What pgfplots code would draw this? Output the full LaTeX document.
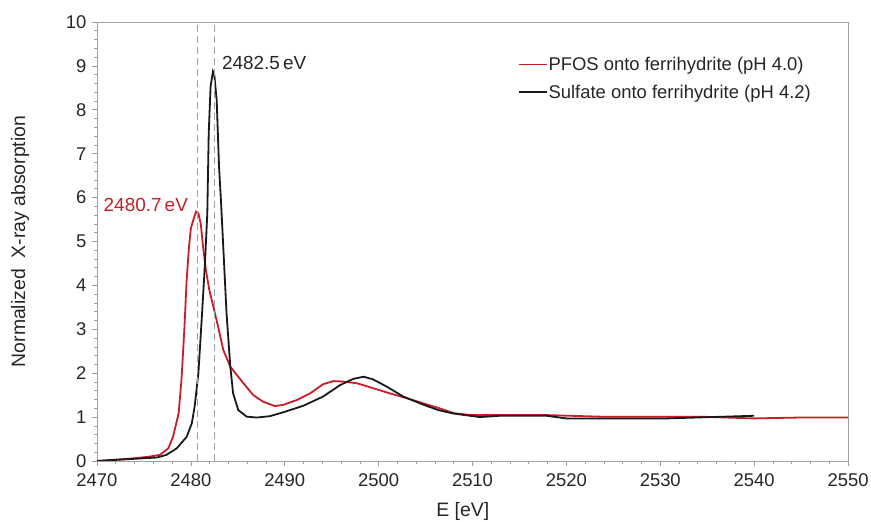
\documentclass[border=0pt]{standalone}
\usepackage{pgfplots}
\pgfplotsset{compat=1.18}
\usepackage{fontspec}
\setmainfont{Liberation Sans}
\definecolor{pfos}{RGB}{200,30,40}
\definecolor{axgray}{RGB}{160,160,160}
\begin{document}
\begin{tikzpicture}[x=1bp,y=1bp]
\begin{axis}[
  scale only axis,
  width=751bp, height=439bp,
  xmin=2470, xmax=2550, ymin=0, ymax=10,
  xtick={2470,2480,...,2550}, ytick={0,1,...,10},
  minor x tick num=4, minor y tick num=4,
  tick pos=left, tick align=outside,
  major tick length=5bp, minor tick length=3bp,
  axis line style={axgray, line width=0.9bp},
  every tick/.style={axgray, line width=0.7bp},
  /pgf/number format/assume math mode=true,
  /pgf/number format/.cd, 1000 sep={}, /pgfplots/.cd,
  tick label style={font=\fontsize{18.5}{20}\selectfont, text=black!85},
  yticklabel style={xshift=-2bp},
  xticklabel style={yshift=-4bp},
  xlabel={E [eV]}, ylabel={Normalized\ \ X-ray absorption},
  every axis x label/.style={at={(axis description cs:0.487,0)}, anchor=center, yshift=-50bp,
    font=\fontsize{19.5}{22}\selectfont, text=black!85},
  every axis y label/.style={at={(axis description cs:0,0.5)}, rotate=90, anchor=center, yshift=77bp,
    font=\fontsize{19.5}{22}\selectfont, text=black!85},
  legend style={draw=none, fill=none, at={(0.56,0.925)}, anchor=north west, inner sep=0pt,
    font=\fontsize{18.5}{20}\selectfont, row sep=9bp, text=black!85,
    nodes={inner xsep=1bp}},
  legend cell align=left,
  legend image code/.code={\draw[#1] (0bp,0bp) -- (28bp,0bp);},
  clip=true,
]
\addlegendimage{pfos, line width=1.8bp}
\addlegendentry{PFOS onto ferrihydrite (pH 4.0)}
\addlegendimage{black!90, line width=1.8bp}
\addlegendentry{Sulfate onto ferrihydrite (pH 4.2)}
\addplot[pfos, line width=1.8bp, forget plot] coordinates {
(2470,0.0) (2473.9,0.06) (2475.6,0.10) (2476.7,0.14) (2477.6,0.29) (2478.1,0.55)
(2478.7,1.09) (2479.0,1.85) (2479.3,2.98) (2479.55,4.12) (2479.8,4.88) (2480.0,5.30)
(2480.26,5.49) (2480.55,5.68) (2480.8,5.64) (2481.05,5.41) (2481.3,4.88) (2481.6,4.35)
(2481.96,3.90) (2482.4,3.51) (2482.9,3.06) (2483.45,2.53) (2484.2,2.15) (2484.9,1.96)
(2485.6,1.77) (2486.65,1.50) (2487.7,1.35) (2488.96,1.25) (2489.85,1.28) (2491.3,1.39)
(2492.7,1.54) (2494.1,1.75) (2495.2,1.82) (2496.2,1.81) (2497.7,1.77) (2499.4,1.66)
(2501.2,1.54) (2503.0,1.43) (2504.8,1.31) (2506.35,1.21) (2508.0,1.09) (2509.7,1.05)
(2512.9,1.05) (2517.2,1.05) (2523.6,1.01) (2534.2,1.01) (2539.9,0.97) (2544.9,0.99)
(2550,0.99)
};
\addplot[black!90, line width=1.8bp, forget plot] coordinates {
(2470,0.0) (2476.4,0.08) (2477.4,0.14) (2478.5,0.29) (2479.55,0.55) (2480.1,0.86)
(2480.4,1.24) (2480.8,2.0) (2481.15,3.21) (2481.5,4.5) (2481.75,5.64) (2481.9,7.46)
(2482.1,8.53) (2482.35,8.87) (2482.5,8.79) (2482.75,8.22) (2483.0,6.7) (2483.2,5.95)
(2483.45,4.88) (2483.8,3.36) (2484.2,2.15) (2484.5,1.54) (2485.05,1.16) (2485.95,1.01)
(2487.0,0.99) (2488.4,1.02) (2489.85,1.11) (2492.0,1.26) (2494.1,1.47) (2495.9,1.73)
(2497.3,1.87) (2498.4,1.92) (2499.4,1.86) (2500.9,1.69) (2502.6,1.47) (2504.8,1.28)
(2506.35,1.16) (2508.0,1.08) (2510.8,1.00) (2512.9,1.03) (2517.9,1.03) (2520.0,0.97)
(2530.7,0.97) (2540.0,1.03)
};
\draw[axgray, dash pattern=on 7bp off 4bp, line width=0.9bp] (axis cs:2480.7,0) -- (axis cs:2480.7,10);
\draw[axgray, dash pattern=on 7bp off 4bp, line width=0.9bp] (axis cs:2482.5,0) -- (axis cs:2482.5,10);
\node[anchor=west, inner sep=0pt, font=\fontsize{19}{21}\selectfont, text=black!85] at (axis cs:2483.3,9.07) {2482.5\,eV};
\node[anchor=center, inner sep=0pt, font=\fontsize{19}{21}\selectfont, text=pfos] at (axis cs:2475.2,5.83) {2480.7\,eV};
\end{axis}
\pgfresetboundingbox
\path[use as bounding box] (-97,-61) rectangle (774,461);
\end{tikzpicture}
\end{document}
